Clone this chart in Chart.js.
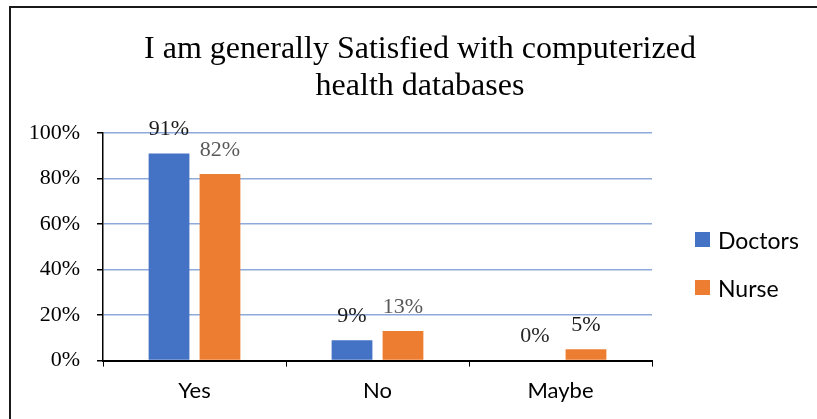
<!DOCTYPE html>
<html>
<head>
<meta charset="utf-8">
<title>I am generally Satisfied with computerized health databases</title>
<script src="https://cdn.jsdelivr.net/npm/chart.js@4.4.1/dist/chart.umd.min.js"></script>
<style>
  html, body { margin: 0; padding: 0; background: #fff; }
  #wrap { position: relative; width: 817px; height: 419px; overflow: hidden; }
  #chart { position: absolute; left: 0; top: 0; }
  #frame {
    position: absolute; left: 9px; top: 6px; right: -4px; bottom: -4px;
    border-left: 2px solid #1a1a1a; border-top: 2px solid #1a1a1a;
    pointer-events: none;
  }
  #legend { position: absolute; left: 695px; top: 228px; font-family: Lato, "Open Sans", sans-serif; font-size: 23px; color: #000; }
  #legend ul { list-style: none; margin: 0; padding: 0; }
  #legend li { display: flex; align-items: center; height: 23px; margin-bottom: 25px; white-space: nowrap; }
  #legend .sw { display: inline-block; width: 15px; height: 15px; margin-right: 8px; }
</style>
</head>
<body>
<div id="wrap">
  <canvas id="chart" width="817" height="419"></canvas>
  <div id="frame"></div>
  <div id="legend"><ul id="legend-list"></ul></div>
</div>
<script>
// Survey answers, in percent
const categories = ['Yes', 'No', 'Maybe'];
const seriesNames = ['Doctors', 'Nurse'];
const doctors = [91, 9, 0];
const nurse = [82, 13, 5];
const titleLines = ['I am generally Satisfied with computerized', 'health databases'];
const yTickValues = [0, 20, 40, 60, 80, 100];

const BLUE = '#4472C4';
const ORANGE = '#ED7D31';

// Percent labels above every bar
const valueLabels = {
  id: 'valueLabels',
  afterDatasetsDraw(chart, args, opts) {
    const ctx = chart.ctx;
    ctx.save();
    ctx.font = opts.font;
    ctx.textAlign = 'center';
    ctx.textBaseline = 'middle';
    chart.data.datasets.forEach((ds, i) => {
      const meta = chart.getDatasetMeta(i);
      meta.data.forEach((bar, j) => {
        ctx.fillStyle = opts.colors[i][j];
        ctx.fillText(ds.data[j] + '%', bar.x, bar.y - opts.offset);
      });
    });
    ctx.restore();
  }
};

// Legend rendered as a list beside the plot
const htmlLegend = {
  id: 'htmlLegend',
  afterUpdate(chart, args, opts) {
    const list = document.getElementById(opts.containerID);
    list.innerHTML = '';
    chart.data.datasets.forEach(ds => {
      const li = document.createElement('li');
      const sw = document.createElement('span');
      sw.className = 'sw';
      sw.style.background = ds.backgroundColor;
      const tx = document.createElement('span');
      tx.textContent = ds.label;
      li.append(sw, tx);
      list.appendChild(li);
    });
  }
};

function draw() {
  new Chart(document.getElementById('chart'), {
    type: 'bar',
    data: {
      labels: categories,
      datasets: [
        { label: seriesNames[0], data: doctors, backgroundColor: BLUE, categoryPercentage: 0.557, barPercentage: 0.8 },
        { label: seriesNames[1], data: nurse, backgroundColor: ORANGE, categoryPercentage: 0.557, barPercentage: 0.8 }
      ]
    },
    options: {
      responsive: false,
      animation: false,
      devicePixelRatio: 1,
      layout: { padding: { left: 23, right: 0, top: 0, bottom: 4 } },
      plugins: {
        legend: { display: false },
        tooltip: { enabled: false },
        title: {
          display: true,
          text: titleLines,
          color: '#000',
          font: { family: '"Liberation Serif", "Times New Roman", serif', size: 32, weight: 'normal', lineHeight: 1.15 },
          padding: { top: 31.5, bottom: 28 }
        },
        valueLabels: {
          font: '22px "Liberation Serif", "Times New Roman", serif',
          offset: 24,
          colors: [['#1a1a1a', '#1a1a1a', '#262626'], ['#595959', '#595959', '#1a1a1a']]
        },
        htmlLegend: { containerID: 'legend-list' }
      },
      scales: {
        x: {
          grid: { display: true, drawOnChartArea: false, drawTicks: true, tickLength: 6, tickColor: '#000', offset: true },
          border: { color: '#000', width: 2 },
          ticks: { color: '#000', padding: 11, font: { family: 'Lato, "Open Sans", sans-serif', size: 22 } }
        },
        y: {
          min: yTickValues[0],
          max: yTickValues[yTickValues.length - 1],
          afterBuildTicks: s => { s.ticks = yTickValues.map(v => ({ value: v })); },
          ticks: {
            color: '#000',
            padding: 17,
            font: { family: '"Liberation Serif", "Times New Roman", serif', size: 22 },
            callback: v => v + '%'
          },
          grid: { color: '#8EA9DB', lineWidth: 1.5, tickLength: 6, tickColor: '#000' },
          border: { color: '#000', width: 1.5 },
          afterFit: s => { s.width = 80; }
        },
        legendSpace: {
          position: 'right',
          display: true,
          grid: { display: false, drawTicks: false },
          border: { display: false },
          ticks: { display: false },
          afterFit: s => { s.width = 165; }
        }
      }
    },
    plugins: [valueLabels, htmlLegend]
  });
}

Promise.all([
  document.fonts.load('22px Lato'),
  document.fonts.load('32px "Liberation Serif"')
]).then(draw, draw);
</script>
</body>
</html>
